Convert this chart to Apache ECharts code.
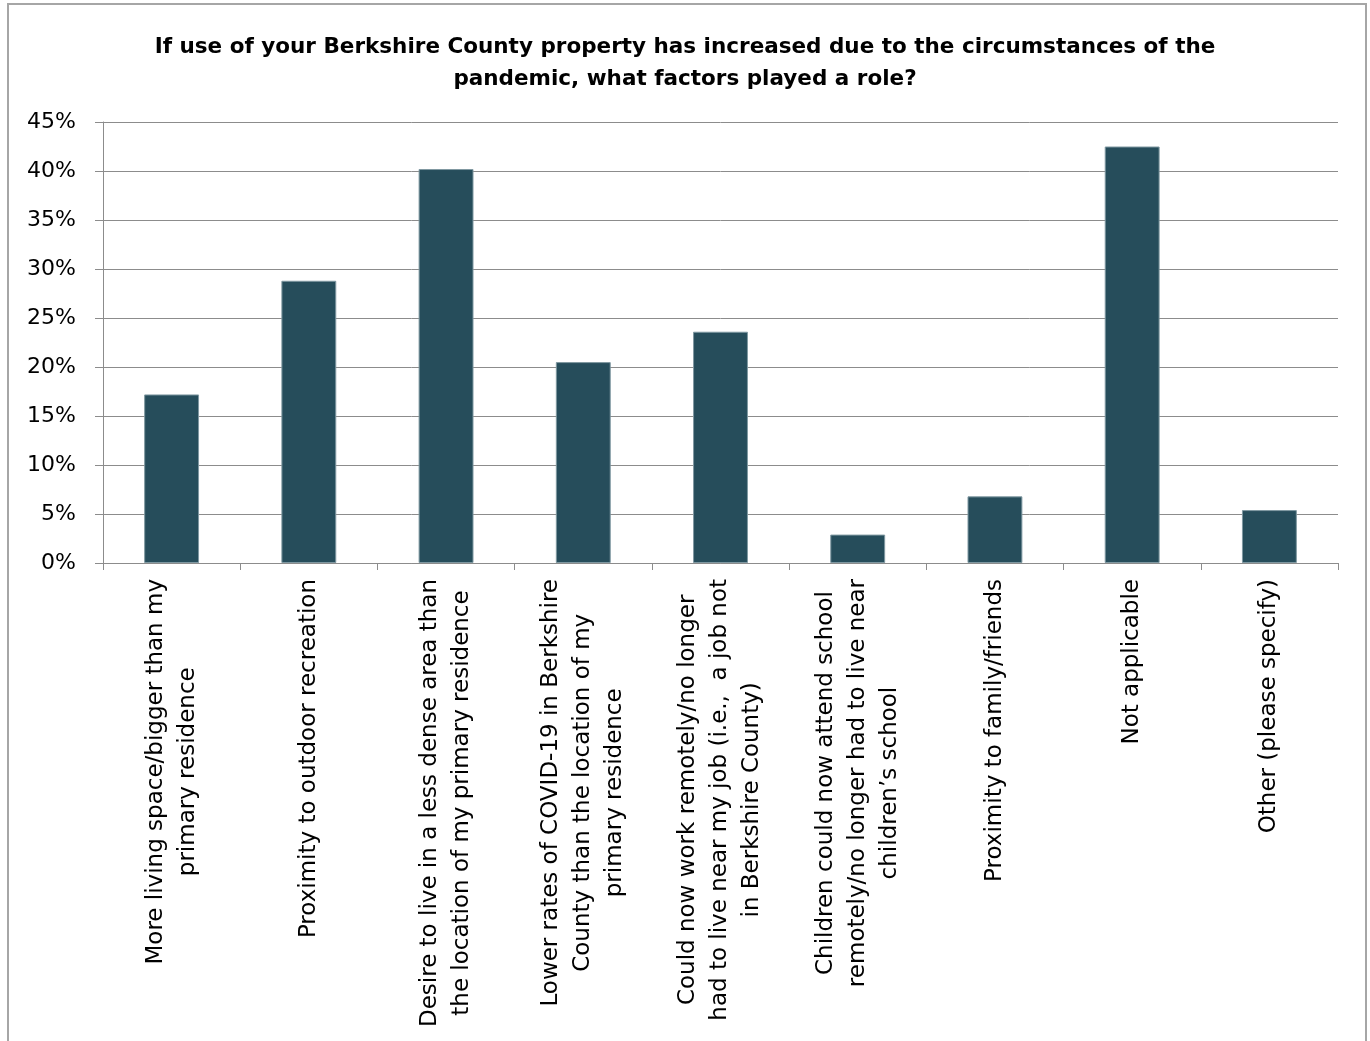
<!DOCTYPE html>
<html>
<head>
<meta charset="utf-8">
<script src="https://cdn.jsdelivr.net/npm/echarts@6/dist/echarts.min.js"></script>
<style>
  html, body { margin: 0; padding: 0; background: #ffffff; }
  #chart { width: 1370px; height: 1041px; }
</style>
</head>
<body>
<div id="chart"></div>
<script>
// Survey factors (x-axis categories, line breaks as shown under the axis)
const categories = [
  "More living space/bigger than my\nprimary residence",
  "Proximity to outdoor recreation",
  "Desire to live in a less dense area than\nthe location of my primary residence",
  "Lower rates of COVID-19 in Berkshire\nCounty than the location of my\nprimary residence",
  "Could now work remotely/no longer\nhad to live near my job (i.e.,  a job not\nin Berkshire County)",
  "Children could now attend school\nremotely/no longer had to live near\nchildren\u2019s school",
  "Proximity to family/friends",
  "Not applicable",
  "Other (please specify)"
];

// Share of respondents (%)
const shares = [17.2, 28.8, 40.2, 20.5, 23.6, 2.9, 6.8, 42.5, 5.4];

// Y-axis tick values (%)
const yTicks = [0, 5, 10, 15, 20, 25, 30, 35, 40, 45];

const titleText = "If use of your Berkshire County property has increased due to the circumstances of the\npandemic, what factors played a role?";

const chart = echarts.init(document.getElementById('chart'), null, { renderer: 'canvas' });

const axisGrey = '#8c8c8c';

chart.setOption({
  animation: false,
  backgroundColor: '#ffffff',
  title: {
    text: titleText,
    left: 'center',
    top: 26,
    textStyle: {
      fontFamily: 'DejaVu Sans',
      fontWeight: 'bold',
      fontSize: 21.5,
      lineHeight: 32,
      color: '#000000'
    }
  },
  graphic: [{
    type: 'rect',
    shape: { x: 8, y: 4, width: 1358, height: 1100 },
    style: { fill: 'none', stroke: '#a6a6a6', lineWidth: 2 },
    silent: true,
    z: -1
  }],
  grid: { left: 103, right: 32, top: 122, bottom: 478, containLabel: false },
  xAxis: {
    type: 'category',
    data: categories,
    axisLine: { show: true, lineStyle: { color: axisGrey, width: 1 } },
    axisTick: { show: true, alignWithLabel: false, length: 7, lineStyle: { color: axisGrey } },
    axisLabel: {
      interval: 0,
      rotate: 90,
      margin: 16,
      formatter: function (v) {
        return v.split('\n').map(function (l) { return '{c|' + l + '}'; }).join('\n');
      },
      rich: {
        c: {
          align: 'center',
          fontFamily: 'DejaVu Sans',
          fontSize: 23,
          lineHeight: 32,
          color: '#000000'
        }
      }
    }
  },
  yAxis: {
    type: 'value',
    min: yTicks[0],
    max: yTicks[yTicks.length - 1],
    interval: 5,
    axisLine: { show: true, lineStyle: { color: axisGrey, width: 1 } },
    axisTick: { show: true, length: 8, lineStyle: { color: axisGrey } },
    splitLine: { show: true, lineStyle: { color: axisGrey, width: 1 } },
    axisLabel: {
      margin: 27,
      formatter: '{value}%',
      fontFamily: 'DejaVu Sans',
      fontSize: 22,
      color: '#000000'
    }
  },
  series: [{
    type: 'bar',
    data: shares,
    barWidth: '40%',
    itemStyle: {
      color: '#264d5b',
      borderColor: '#7f98a1',
      borderWidth: 1
    }
  }]
});
</script>
</body>
</html>
